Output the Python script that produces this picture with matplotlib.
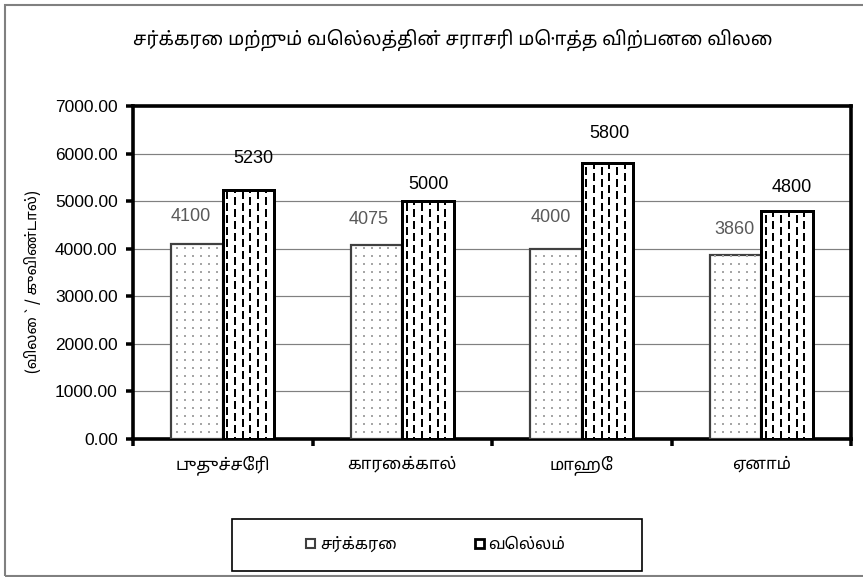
import numpy as np
import matplotlib
matplotlib.use("Agg")
import matplotlib.pyplot as plt
from matplotlib.patches import Patch, Rectangle

# ---------------- data ----------------
title = "சர்க்கரை மற்றும் வெல்லத்தின் சராசரி மொத்த விற்பனை விலை"
ylabel = "(விலை ` / குவிண்டால்)"
categories = ["புதுச்சேரி", "காரைக்கால்", "மாஹே", "ஏனாம்"]
series_names = ["சர்க்கரை", "வெல்லம்"]
sugar = [4100, 4075, 4000, 3860]
jaggery = [5230, 5000, 5800, 4800]
yticks = [0, 1000, 2000, 3000, 4000, 5000, 6000, 7000]

# label nudges (pixels: dx, dy above bar top) as placed in the original chart
sugar_label_nudge = [(-6, 27), (-8, 26), (-5, 31), (-1, 26)]
jaggery_label_nudge = [(5, 32), (1, 17), (2, 30), (5, 23)]

# ---------------- fonts ----------------
TAMIL = ['Noto Sans Tamil', 'FreeSans', 'Liberation Sans', 'DejaVu Sans']
LATIN = ['Liberation Sans', 'DejaVu Sans']
plt.rcParams['font.family'] = TAMIL
plt.rcParams['lines.scale_dashes'] = False

W, H = 863, 577
fig = plt.figure(figsize=(W / 100, H / 100), dpi=100)
px = 72 / 100  # points per pixel

L, R, T, B = 133, 851, 106, 439
ax = fig.add_axes([L / W, 1 - B / H, (R - L) / W, (B - T) / H])

x = np.arange(len(categories))
w = 0.2857
b1 = ax.bar(x - w / 2, sugar, w, facecolor='white', edgecolor='#404040',
            linewidth=2.2 * px, zorder=3)
b2 = ax.bar(x + w / 2, jaggery, w, facecolor='white', edgecolor='black',
            linewidth=3 * px, zorder=4)

# fill patterns derived from bar geometry
for bar in b1:
    x0, bw, h = bar.get_x(), bar.get_width(), bar.get_height()
    step = bw / 6.4
    xs = x0 + step * 0.65 + step * np.arange(6)
    ax.vlines(xs, 0, h, colors='#A6A6A6', linewidth=2 * px,
              linestyles=[(2 * px, (2 * px, 6 * px))], zorder=3.5)
for bar in b2:
    x0, bw, h = bar.get_x(), bar.get_width(), bar.get_height()
    step = bw / 6.6
    xs = x0 + step * 0.55 + step * np.arange(6)
    for k, xx in enumerate(xs):
        off = 0 if k % 2 == 0 else 6
        ax.vlines([xx], 0, h, colors='black', linewidth=2 * px,
                  linestyles=[(off * px, (8 * px, 4 * px))], zorder=4.5)

# value labels
for bar, v, (dx, dy) in zip(b1, sugar, sugar_label_nudge):
    ax.annotate(f"{v}", (bar.get_x() + bar.get_width() / 2, v),
                xytext=(dx * px, dy * px), textcoords='offset points',
                ha='center', va='center', fontsize=13, color='#595959',
                family=LATIN, zorder=6)
for bar, v, (dx, dy) in zip(b2, jaggery, jaggery_label_nudge):
    ax.annotate(f"{v}", (bar.get_x() + bar.get_width() / 2, v),
                xytext=(dx * px, dy * px), textcoords='offset points',
                ha='center', va='center', fontsize=13, color='black',
                family=LATIN, zorder=6)

ax.set_xlim(-0.5, len(categories) - 0.5)
ax.set_ylim(0, 7000)
ax.set_yticks(yticks)
ax.set_yticklabels([f"{t:.2f}" for t in yticks], family=LATIN, fontsize=12.5)
ax.yaxis.grid(True, color='#808080', linewidth=1.2 * px, zorder=0)
ax.set_axisbelow(True)

ax.set_xticks(np.arange(len(categories) + 1) - 0.5)
ax.set_xticklabels([])
ax.set_xticks(x, minor=True)
ax.set_xticklabels(categories, minor=True, fontsize=12)
ax.tick_params(axis='x', which='minor', length=0, pad=12)
ax.tick_params(axis='x', which='major', direction='out', length=7 * px, width=3.5 * px)
ax.tick_params(axis='y', direction='out', length=7 * px, width=3.5 * px, pad=6)
for s in ax.spines.values():
    s.set_linewidth(3.6 * px)
    s.set_color('black')

ax.set_ylabel(ylabel, fontsize=10.8, color='black', va='center')
ax.yaxis.set_label_coords((33 - L) / (R - L), (B - 282) / (B - T))

fig.text(453 / W, 1 - 40 / H, title, ha='center', va='center', fontsize=13.5)

# legend
handles = [Patch(facecolor='white', edgecolor='#404040', linewidth=1.5),
           Patch(facecolor='white', edgecolor='black', linewidth=2, hatch='|')]
fig.legend(handles, series_names, loc='center', bbox_to_anchor=(436 / W, 1 - 545 / H),
           ncol=2, frameon=False, fontsize=11.5, handlelength=0.55, handleheight=0.55,
           handletextpad=0.3, columnspacing=4.9)
fig.add_artist(Rectangle((232 / W, 1 - 571 / H), (642 - 232) / W, (571 - 519) / H,
                         transform=fig.transFigure, fill=False, edgecolor='black',
                         linewidth=1.2))
# outer chart border
fig.add_artist(Rectangle((4.5 / W, 1.5 / H), (W + 5) / W, (H - 6) / H,
                         transform=fig.transFigure, fill=False, edgecolor='#808080',
                         linewidth=1.5))

fig.savefig("out.png", dpi=100)
